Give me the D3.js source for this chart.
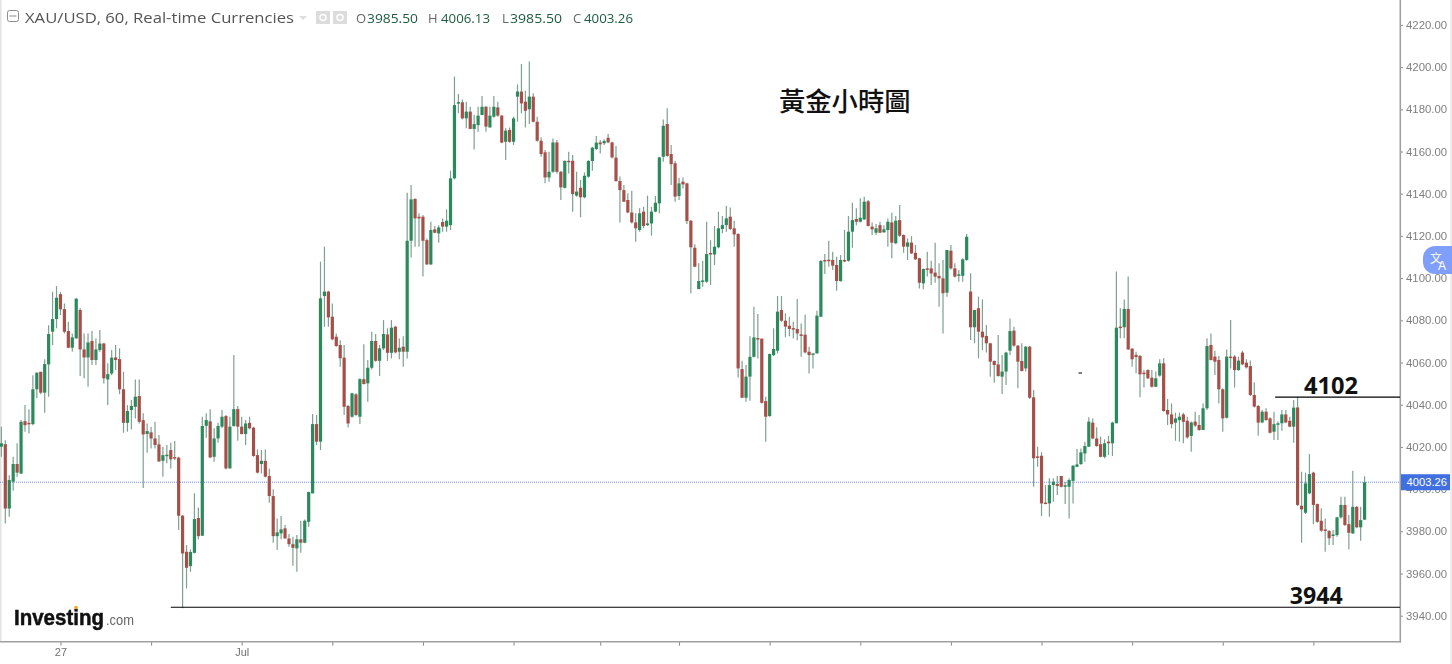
<!DOCTYPE html>
<html><head><meta charset="utf-8">
<script src="https://cdn.jsdelivr.net/npm/d3@7/dist/d3.min.js"></script>
<style>html,body{margin:0;padding:0;background:#fff;overflow:hidden}svg{display:block}</style>
</head><body><svg id="c" width="1452" height="664"></svg>
<script>
const opens=[4020.1,4021.3,3990.8,4003.5,4011.9,4007.4,4032.2,4031.4,4030.8,4047.3,
4055.6,4045.7,4059.1,4074.6,4080.6,4092.4,4085.3,4074.9,4067.0,4071.4,
4084.9,4066.2,4062.4,4070.2,4061.2,4065.9,4069.0,4052.0,4054.8,4062.4,
4061.6,4047.3,4031.4,4037.5,4039.0,4044.1,4032.7,4026.1,4026.9,4024.0,
4021.2,4013.4,4016.0,4018.5,4015.2,4014.9,3987.4,3970.3,3963.5,3969.8,
3986.3,3977.9,4030.0,4032.1,4015.3,4024.0,4029.6,4034.6,4009.8,4029.9,
4037.9,4029.6,4026.1,4031.4,4029.1,4016.1,4011.9,4013.4,4006.2,3996.7,
3977.7,3979.0,3981.4,3976.6,3973.9,3971.9,3976.2,3974.6,3984.5,3998.0,
4030.8,4022.5,4091.5,4093.6,4081.7,4072.2,4068.3,4062.3,4039.4,4034.3,
4044.9,4034.3,4052.1,4050.1,4057.5,4070.2,4060.8,4066.7,4073.3,4064.6,
4077.0,4065.1,4067.5,4065.1,4117.7,4137.5,4129.1,4129.1,4118.0,4106.5,
4123.1,4121.2,4126.6,4124.4,4125.1,4147.3,4183.1,4183.3,4175.7,4178.9,
4170.7,4172.5,4177.3,4181.2,4171.4,4176.5,4180.9,4177.0,4164.6,4170.2,
4164.6,4186.0,4188.4,4183.6,4180.0,4186.0,4174.1,4165.1,4159.6,4147.7,
4150.4,4164.3,4150.4,4142.8,4155.6,4155.6,4139.1,4142.8,4138.3,4148.1,
4155.5,4161.2,4164.3,4163.9,4166.5,4164.3,4157.1,4146.0,4141.7,4137.0,
4131.1,4126.4,4122.8,4131.5,4125.1,4125.9,4131.5,4135.4,4157.5,4173.0,
4158.8,4154.4,4138.9,4145.7,4144.9,4127.2,4114.4,4094.8,4098.6,4098.3,
4111.9,4111.2,4114.6,4123.3,4125.1,4129.1,4123.6,4120.9,4056.9,4043.3,
4053.3,4062.7,4071.6,4071.3,4041.7,4034.6,4063.5,4065.6,4084.9,4079.8,
4077.4,4076.3,4075.9,4073.3,4073.2,4065.1,4063.8,4064.3,4081.7,4108.6,
4108.7,4108.6,4106.2,4098.6,4108.6,4108.2,4122.0,4128.0,4126.7,4127.8,
4136.4,4124.4,4121.5,4125.1,4121.7,4122.8,4126.4,4116.5,4127.5,4120.4,
4114.9,4116.8,4112.0,4109.4,4097.5,4104.6,4104.6,4102.6,4101.0,4099.9,
4093.1,4113.0,4104.6,4101.1,4101.1,4108.6,4093.6,4076.7,4085.7,4074.6,
4072.6,4069.1,4060.7,4059.1,4053.3,4055.7,4065.6,4075.1,4068.0,4060.7,
4057.2,4067.5,4043.5,4015.5,4015.8,3993.6,3993.2,4001.9,4002.4,4006.2,
4001.1,4001.1,4003.9,4010.6,4011.9,4016.9,4020.1,4031.5,4024.0,4021.3,
4015.3,4022.5,4021.7,4031.2,4077.0,4076.7,4085.4,4066.6,4063.6,4063.1,
4055.2,4056.4,4052.8,4048.5,4053.8,4059.6,4037.5,4035.4,4031.5,4032.7,
4035.4,4032.4,4025.2,4032.0,4030.4,4028.0,4038.3,4068.3,4062.8,4061.2,
4047.3,4033.8,4062.8,4062.8,4056.4,4064.7,4059.9,4058.3,4044.6,4039.4,
4031.6,4036.7,4033.5,4027.2,4030.5,4031.2,4035.4,4032.4,4029.6,4038.7,
3992.1,3988.8,3998.0,4007.8,3992.9,3985.0,3980.9,3980.1,3977.9,3978.2,
3986.6,3992.5,3983.4,3979.0,3991.6,3981.9,3985.50];
const closes=[4021.7,3990.8,4004.3,4011.9,4007.8,4031.9,4030.3,4031.0,4047.3,4055.2,
4045.7,4059.3,4073.5,4080.6,4090.7,4085.2,4074.6,4067.0,4071.9,4090.2,
4066.2,4062.4,4069.5,4061.2,4066.2,4069.0,4052.5,4054.5,4062.3,4061.2,
4047.3,4031.4,4037.0,4039.4,4043.8,4031.9,4025.9,4027.5,4024.0,4020.9,
4013.1,4016.1,4016.3,4014.1,4014.9,3987.4,3969.5,3962.7,3970.2,3985.8,
3977.7,4029.9,4032.7,4015.0,4024.0,4029.9,4034.3,4009.8,4029.6,4037.9,
4029.6,4026.1,4031.1,4028.8,4015.7,4007.8,4013.4,4005.9,3996.7,3977.7,
3979.5,3980.9,3976.6,3973.9,3972.2,3976.2,3974.6,3985.0,3998.6,4030.8,
4022.5,4090.4,4093.6,4081.4,4071.0,4067.8,4062.0,4039.0,4031.1,4045.4,
4035.1,4052.1,4049.8,4057.5,4070.2,4060.8,4066.7,4073.5,4064.6,4076.5,
4064.8,4067.0,4065.1,4117.7,4137.3,4128.3,4128.3,4117.7,4106.5,4122.8,
4121.5,4124.0,4124.4,4127.2,4147.3,4182.0,4183.4,4175.7,4178.9,4170.7,
4173.0,4177.0,4181.2,4171.8,4177.0,4181.2,4177.0,4164.2,4169.9,4164.6,
4175.7,4188.4,4182.8,4179.3,4186.0,4174.1,4165.1,4158.8,4147.7,4150.4,
4164.3,4150.4,4143.0,4155.5,4155.0,4139.8,4141.0,4138.3,4148.5,4155.5,
4161.8,4164.2,4163.4,4165.0,4164.3,4157.2,4146.0,4141.7,4136.2,4131.1,
4126.4,4123.6,4130.7,4124.7,4125.9,4131.5,4135.7,4157.2,4172.2,4157.9,
4154.0,4138.6,4144.9,4144.4,4127.0,4114.6,4105.4,4098.6,4098.9,4111.4,
4111.2,4114.9,4123.6,4125.1,4128.3,4123.3,4120.7,4057.2,4043.3,4053.3,
4062.7,4071.9,4071.3,4040.9,4034.3,4064.0,4066.4,4084.1,4079.8,4077.0,
4075.9,4075.9,4073.8,4072.7,4064.8,4063.5,4064.3,4082.2,4108.1,4108.1,
4108.2,4105.9,4098.6,4108.6,4107.9,4122.0,4127.5,4126.7,4128.6,4136.2,
4124.7,4123.1,4123.6,4121.5,4123.1,4126.7,4116.8,4127.2,4120.1,4114.9,
4116.9,4111.7,4108.9,4097.8,4104.3,4104.1,4102.2,4100.7,4099.9,4092.8,
4113.3,4104.6,4100.7,4101.8,4108.9,4119.6,4076.7,4084.9,4074.6,4071.9,
4069.1,4060.4,4058.8,4053.6,4055.7,4064.7,4074.9,4068.0,4060.4,4056.0,
4067.5,4043.3,4014.6,4015.0,3993.2,3992.9,4001.9,4003.5,4001.5,4001.1,
4001.8,4004.3,4011.1,4011.7,4017.4,4020.4,4032.0,4024.0,4020.4,4015.3,
4021.7,4021.7,4031.5,4076.5,4076.3,4085.4,4066.2,4061.5,4062.6,4054.4,
4054.6,4052.5,4048.5,4052.5,4059.6,4037.0,4035.4,4030.8,4033.5,4034.3,
4031.9,4024.5,4031.6,4030.1,4028.0,4038.3,4067.8,4061.2,4060.4,4047.3,
4033.5,4062.8,4062.1,4056.4,4060.9,4059.1,4057.7,4044.6,4039.1,4031.5,
4036.7,4032.7,4026.7,4030.8,4031.2,4035.4,4031.6,4029.6,4038.6,3992.5,
3990.4,4002.7,4007.1,3992.5,3984.5,3980.3,3980.3,3976.7,3978.5,3986.6,
3992.5,3983.0,3979.3,3991.6,3981.9,3985.3,4003.26];
const highs=[4029.6,4023.2,4006.6,4015.3,4021.7,4032.7,4039.8,4037.8,4054.0,4055.2,
4055.6,4061.5,4077.7,4093.5,4096.2,4093.5,4088.0,4079.3,4073.8,4090.7,
4085.7,4073.8,4073.8,4074.9,4071.4,4075.4,4069.4,4059.6,4065.9,4068.3,
4066.7,4055.6,4039.8,4042.2,4052.0,4052.0,4035.9,4031.1,4029.6,4031.9,
4025.6,4020.1,4020.9,4022.0,4022.8,4015.3,3987.7,3973.5,3971.4,3998.0,
3991.3,4034.3,4035.9,4037.9,4028.8,4031.4,4037.5,4035.1,4034.3,4063.5,
4039.4,4034.3,4032.7,4034.3,4029.6,4018.8,4018.5,4018.8,4009.8,3999.9,
3986.1,3987.2,3983.0,3978.7,3977.4,3978.2,3985.0,3985.6,3998.8,4035.6,
4035.1,4107.8,4114.9,4094.0,4088.0,4073.8,4070.6,4068.3,4039.8,4045.7,
4045.4,4052.5,4068.7,4061.2,4074.6,4073.5,4068.3,4080.1,4076.2,4080.1,
4077.3,4071.4,4072.5,4140.5,4144.1,4137.8,4130.7,4129.9,4118.8,4126.7,
4124.8,4125.1,4128.3,4132.6,4150.9,4195.5,4187.2,4184.7,4183.6,4181.2,
4177.3,4181.2,4186.3,4181.6,4181.2,4186.3,4183.6,4177.3,4171.0,4171.4,
4176.5,4191.8,4201.5,4188.8,4202.6,4187.6,4176.5,4166.7,4160.7,4159.9,
4166.2,4165.4,4150.9,4155.9,4159.9,4158.3,4150.4,4146.5,4150.1,4155.9,
4162.3,4167.3,4165.4,4165.8,4168.3,4164.6,4162.6,4148.1,4144.1,4140.2,
4141.4,4130.7,4133.1,4133.8,4139.1,4133.8,4138.9,4157.5,4175.2,4180.5,
4163.1,4155.6,4147.6,4147.7,4145.2,4127.5,4116.1,4107.0,4108.2,4126.7,
4118.0,4124.7,4131.5,4129.4,4134.2,4133.5,4127.2,4121.2,4060.8,4058.8,
4072.5,4086.4,4083.0,4071.4,4043.8,4064.3,4076.2,4091.5,4091.5,4083.3,
4081.7,4079.3,4090.1,4078.5,4082.8,4067.5,4064.3,4084.5,4108.6,4111.4,
4117.7,4112.5,4110.1,4110.9,4122.8,4129.4,4135.7,4133.1,4137.8,4138.6,
4137.0,4126.3,4125.6,4126.7,4125.1,4128.3,4131.0,4129.4,4134.6,4120.7,
4118.8,4119.9,4115.7,4109.7,4104.6,4112.5,4108.2,4116.8,4107.0,4108.6,
4113.3,4115.7,4107.0,4103.8,4109.4,4120.9,4102.3,4084.9,4091.2,4089.9,
4077.8,4069.4,4060.9,4073.0,4063.6,4065.1,4080.9,4077.0,4068.3,4069.1,
4067.8,4067.8,4047.0,4020.1,4017.5,4001.9,4005.1,4005.1,4006.2,4006.2,
4003.5,4005.1,4011.4,4019.0,4019.3,4022.5,4034.0,4033.5,4029.3,4024.8,
4023.6,4025.2,4032.0,4103.1,4085.7,4089.9,4100.7,4066.7,4065.1,4063.6,
4056.4,4056.8,4056.4,4055.7,4061.5,4062.0,4042.7,4040.6,4036.2,4036.2,
4036.2,4034.3,4032.0,4036.7,4035.1,4040.6,4071.5,4073.8,4065.6,4063.1,
4047.8,4066.2,4080.1,4063.6,4062.8,4065.6,4061.5,4060.9,4050.6,4039.9,
4037.5,4038.3,4034.0,4036.7,4032.0,4037.5,4037.5,4034.3,4042.2,4043.8,
4008.2,4007.8,4016.6,4008.2,3993.2,3990.9,3986.1,3980.6,3980.6,3986.9,
3996.4,3996.4,3987.7,4008.7,3992.0,3991.6,4006.13];
const lows=[4015.3,3983.7,3986.9,3999.2,4005.9,4007.1,4027.2,4026.4,4030.3,4043.0,
4045.0,4036.2,4043.8,4068.3,4076.2,4082.5,4073.8,4066.7,4065.1,4071.4,
4053.6,4052.5,4048.5,4058.8,4058.8,4065.1,4050.1,4039.8,4054.0,4056.4,
4045.0,4026.7,4027.2,4028.3,4033.5,4031.1,4000.5,4017.2,4019.3,4019.3,
4013.0,4005.9,4012.2,4009.8,4013.8,3980.6,3943.5,3952.9,3960.8,3969.5,
3976.2,3977.9,4024.3,4014.6,4013.0,4022.0,4028.8,4009.3,4009.8,4029.6,
4022.9,4025.9,4020.9,4028.3,4015.3,4007.4,4007.4,4005.5,3993.5,3974.6,
3971.1,3976.2,3976.6,3972.7,3963.7,3960.8,3969.8,3974.3,3982.2,3998.0,
4020.9,4018.5,4076.9,4076.9,4070.6,4067.5,4058.0,4035.1,4029.2,4033.8,
4034.8,4030.8,4049.6,4041.4,4056.7,4060.4,4053.6,4065.9,4060.8,4061.9,
4064.3,4061.5,4058.0,4061.9,4109.8,4114.9,4114.9,4100.7,4106.2,4106.2,
4121.2,4116.8,4122.0,4122.0,4122.8,4146.8,4178.1,4175.2,4171.0,4170.5,
4161.0,4169.4,4177.3,4169.4,4171.4,4176.0,4176.5,4163.9,4156.0,4164.2,
4163.1,4174.1,4178.1,4171.4,4173.0,4173.7,4164.6,4157.5,4144.9,4145.7,
4149.9,4149.6,4137.0,4142.5,4149.6,4131.5,4138.6,4128.8,4137.8,4147.6,
4150.9,4160.7,4159.1,4163.1,4163.9,4156.7,4145.7,4126.3,4136.2,4130.7,
4125.9,4117.2,4122.0,4123.6,4124.7,4120.1,4131.2,4130.7,4155.2,4157.5,
4144.1,4136.2,4137.0,4142.5,4125.6,4092.8,4105.1,4094.7,4095.9,4097.8,
4096.7,4106.2,4114.1,4121.2,4122.0,4122.8,4114.9,4052.9,4043.0,4041.4,
4041.9,4062.4,4061.9,4040.6,4022.5,4034.3,4063.1,4064.3,4079.3,4071.9,
4072.5,4071.4,4070.6,4062.7,4064.3,4054.8,4057.2,4064.3,4081.7,4101.9,
4105.4,4103.8,4094.0,4098.3,4107.5,4107.8,4114.4,4125.1,4126.3,4127.5,
4124.4,4120.4,4120.4,4121.2,4121.5,4114.9,4109.4,4116.1,4119.6,4112.0,
4108.6,4111.4,4108.6,4095.1,4094.7,4100.7,4096.7,4097.8,4086.4,4073.8,
4091.2,4104.1,4100.3,4098.3,4098.3,4108.2,4070.7,4069.1,4062.0,4065.9,
4064.7,4053.3,4050.4,4053.3,4045.1,4049.3,4063.6,4067.5,4047.8,4055.7,
4055.7,4042.7,4001.1,4010.6,3987.2,3992.9,3986.9,3994.0,3997.2,4000.8,
3992.9,3986.1,3993.2,4010.3,4011.4,4013.0,4020.1,4023.6,4020.1,4015.0,
4014.6,4016.1,4015.7,4031.2,4071.5,4071.5,4065.9,4058.0,4054.9,4043.5,
4048.1,4052.2,4048.2,4048.5,4053.3,4036.7,4030.4,4028.8,4022.9,4022.5,
4021.7,4024.0,4017.7,4029.6,4027.7,4028.0,4037.5,4060.9,4054.1,4040.6,
4027.2,4033.5,4057.2,4048.1,4056.1,4058.8,4057.2,4044.1,4038.7,4025.3,
4031.2,4032.4,4026.4,4023.3,4023.3,4027.7,4031.2,4029.3,4022.0,3992.0,
3974.6,3988.2,3997.7,3983.3,3984.0,3979.8,3970.3,3973.5,3973.5,3977.4,
3986.1,3982.5,3971.4,3978.7,3981.4,3975.5,3985.50];
const priceTicks=[3940,3960,3980,4000,4020,4040,4060,4080,4100,4120,4140,4160,4180,4200,4220];
const timeTicks=[15,38,61,84,107,130,152,172,195,218,241,264,287,310,333];
const timeLabels={15:"27",61:"Jul"};
const lastPrice=4003.26;
const hLines=[{label:"4102",price:4043.6,from:323.3,to:346.9,textIdx:330.6,w:54},{label:"3944",price:3944.0,from:43,to:346.9,textIdx:327,w:53}];
const legend=[["O","3985.50",356,367,51],["H","4006.13",428,441,49],["L","3985.50",502,510,52],["C","4003.26",573,584,49]];

const svg=d3.select("#c");
const x=d3.scaleLinear().domain([0,opens.length-1]).range([1.36,1364.6]);
const y=d3.scaleLinear().domain([3940,4220]).range([615.7,24.9]);
const sans="'Liberation Sans',Arial,sans-serif";
const G="#2b8a5c",R="#a64f49",W="#7f9f90";
const soft="blur(0.35px)";

svg.append("rect").attr("width",1452).attr("height",664).attr("fill","#fff");
svg.append("rect").attr("x",0).attr("y",0).attr("width",1.5).attr("height",642).attr("fill","#e2e2e2");
svg.append("rect").attr("x",1450).attr("y",0).attr("width",2).attr("height",664).attr("fill","#eeeeee");

// last price line
svg.append("line").attr("x1",0).attr("x2",1400).attr("y1",y(lastPrice)).attr("y2",y(lastPrice))
 .attr("stroke","#6f8fe6").attr("stroke-width",1).attr("stroke-dasharray","1 1");

// candles
const idx=d3.range(opens.length);
const cg=svg.append("g").style("filter",soft);
cg.append("g").selectAll("line").data(idx).join("line")
 .attr("x1",i=>x(i)).attr("x2",i=>x(i)).attr("y1",i=>y(highs[i])).attr("y2",i=>y(lows[i]))
 .attr("stroke",W).attr("stroke-width",1.2);
cg.append("g").selectAll("rect").data(idx).join("rect")
 .attr("x",i=>x(i)-1.6).attr("width",3.2)
 .attr("y",i=>y(Math.max(opens[i],closes[i])))
 .attr("height",i=>Math.max(1.5,Math.abs(y(opens[i])-y(closes[i]))))
 .attr("fill",i=>closes[i]>=opens[i]?G:R);

// axes
const yAxis=d3.axisRight(y).tickValues(priceTicks).tickFormat(d3.format(".2f")).tickSize(3).tickSizeOuter(0);
const ga=svg.append("g").attr("transform","translate(1400,0)").style("filter",soft).call(yAxis);
ga.select(".domain").remove();
ga.selectAll("line").attr("stroke","#8a8a8a");
ga.selectAll("text").attr("fill","#808080").attr("font-family",sans).attr("font-size",11.4);
const xAxis=d3.axisBottom(x).tickValues(timeTicks).tickFormat(d=>timeLabels[d]||"").tickSize(4).tickSizeOuter(0);
const gb=svg.append("g").attr("transform","translate(0,641.7)").style("filter",soft).call(xAxis);
gb.select(".domain").remove();
gb.selectAll("line").attr("stroke","#8a8a8a");
gb.selectAll("text").attr("fill","#707070").attr("font-family",sans).attr("font-size",11);
svg.append("line").attr("x1",0).attr("x2",1401).attr("y1",641.7).attr("y2",641.7).attr("stroke","#a0a0a0").attr("stroke-width",1.6);
svg.append("line").attr("x1",1400.3).attr("x2",1400.3).attr("y1",0).attr("y2",642.5).attr("stroke","#a0a0a0").attr("stroke-width",1.6);

// price tag
svg.append("rect").attr("x",1401).attr("y",y(lastPrice)-8).attr("width",49).attr("height",16).attr("fill","#3f6fe0");
svg.append("text").attr("x",1406.5).attr("y",y(lastPrice)+4).attr("fill","#fff").attr("font-family",sans).attr("font-size",11.2).text(d3.format(".2f")(lastPrice));

// annotation lines
hLines.forEach(h=>{
 svg.append("line").attr("x1",x(h.from)).attr("x2",1400).attr("y1",y(h.price)).attr("y2",y(h.price)).attr("stroke","#000").attr("stroke-width",1.1);
 svg.append("text").attr("x",x(h.textIdx)).attr("y",y(h.price)-3.5).attr("font-family","'Open Sans',Carlito,sans-serif").attr("font-weight",700).attr("font-size",22.5).attr("fill","#111")
  .attr("textLength",h.w).attr("lengthAdjust","spacingAndGlyphs").text(h.label);
});
svg.append("line").attr("x1",1078.5).attr("x2",1082).attr("y1",373).attr("y2",373).attr("stroke","#000").attr("stroke-width",1);

// title
svg.append("text").attr("x",779).attr("y",111).attr("font-family","'Noto Sans CJK TC'").attr("font-weight",500).attr("font-size",26.3).attr("fill","#111").text("黃金小時圖");

// header
const hd=svg.append("g").style("filter",soft);
hd.append("rect").attr("x",7.5).attr("y",10.5).attr("width",11).attr("height",11).attr("rx",2).attr("fill","none").attr("stroke","#8c8c8c");
hd.append("line").attr("x1",9.5).attr("x2",16.5).attr("y1",16).attr("y2",16).attr("stroke","#8c8c8c");
hd.append("text").attr("x",25).attr("y",23).attr("font-family","'Open Sans',sans-serif").attr("font-size",14).attr("fill","#555")
 .attr("textLength",269).attr("lengthAdjust","spacingAndGlyphs").text("XAU/USD, 60, Real-time Currencies");
hd.append("path").attr("d",d3.line()([[299,16],[307,16],[303,20]])+"Z").attr("fill","#ddd");
[316,333].forEach(px=>{
 hd.append("rect").attr("x",px).attr("y",11).attr("width",14).attr("height",13).attr("fill","#dcdcdc");
 hd.append("circle").attr("cx",px+7).attr("cy",17.5).attr("r",3).attr("fill","none").attr("stroke","#fff").attr("stroke-width",1.5);
});
legend.forEach(([k,v,kx,vx,w])=>{
 hd.append("text").attr("x",kx).attr("y",23).attr("font-family","'Open Sans',sans-serif").attr("font-size",13).attr("fill","#666").text(k);
 hd.append("text").attr("x",vx).attr("y",23).attr("font-family","'Open Sans',sans-serif").attr("font-size",13).attr("fill","#1d5c3d")
  .attr("textLength",w).attr("lengthAdjust","spacingAndGlyphs").text(v);
});

// logo
const lg=svg.append("g").style("filter",soft);
lg.append("text").attr("x",14).attr("y",625).attr("font-family",sans).attr("font-weight",700).attr("font-size",22).attr("fill","#111").attr("stroke","#111").attr("stroke-width",0.5)
 .attr("textLength",90).attr("lengthAdjust","spacingAndGlyphs").text("Investing");
lg.append("text").attr("x",106).attr("y",625).attr("font-family",sans).attr("font-size",14).attr("fill","#666")
 .attr("textLength",28).attr("lengthAdjust","spacingAndGlyphs").text(".com");
lg.append("circle").attr("cx",76).attr("cy",607.5).attr("r",1.8).attr("fill","#f5a623");

// translate badge
svg.append("rect").attr("x",1423).attr("y",246).attr("width",40).attr("height",28).attr("rx",12).attr("fill","#7f9ffa");
svg.append("text").attr("x",1430).attr("y",263).attr("font-family","'Noto Sans CJK SC'").attr("font-size",12).attr("fill","#fff").text("文");
svg.append("text").attr("x",1438).attr("y",270).attr("font-family",sans).attr("font-size",12).attr("fill","#fff").text("A");
</script></body></html>
